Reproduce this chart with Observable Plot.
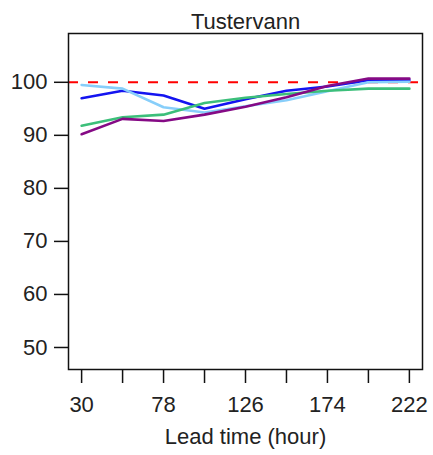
<!DOCTYPE html>
<html>
<head>
<meta charset="utf-8">
<script src="https://cdn.jsdelivr.net/npm/d3@7"></script>
<script src="https://cdn.jsdelivr.net/npm/@observablehq/plot@0.6"></script>
<style>
  html, body { margin: 0; padding: 0; background: #fff; }
  svg { display: block; }
</style>
</head>
<body>
<div id="chart"></div>
<script>
const title = "Tustervann";
const xLabel = "Lead time (hour)";
const leadTimes = [30, 54, 78, 102, 126, 150, 174, 198, 222];
const xTickLabels = [30, 78, 126, 174, 222];
const yTicks = [50, 60, 70, 80, 90, 100];
const reference = 100;

const seriesNames = ["Series A", "Series B", "Series C", "Series D"];
const seriesColors = ["#1414F0", "#87CEFA", "#3CBF7A", "#850A85"];
const seriesAValues = [97.0, 98.4, 97.5, 95.0, 96.8, 98.4, 99.2, 100.4, 100.4];
const seriesBValues = [99.5, 98.8, 95.3, 94.3, 95.5, 96.6, 98.3, 100.0, 100.1];
const seriesCValues = [91.8, 93.4, 93.9, 96.1, 97.1, 97.8, 98.4, 98.8, 98.8];
const seriesDValues = [90.2, 93.1, 92.7, 93.9, 95.4, 97.2, 99.3, 100.7, 100.7];
const allValues = [seriesAValues, seriesBValues, seriesCValues, seriesDValues];

const rows = [];
seriesNames.forEach((name, i) => {
  leadTimes.forEach((t, j) => rows.push({series: name, lead: t, value: allValues[i][j]}));
});

const font = "'Liberation Sans', Arial, Helvetica, sans-serif";

const chart = Plot.plot({
  width: 433,
  height: 455,
  marginLeft: 68,
  marginRight: 11,
  marginTop: 33,
  marginBottom: 86,
  style: {fontFamily: font, fontSize: "22px", color: "#222", background: "#fff"},
  x: {domain: [22.32, 229.68]},
  y: {domain: [45.85, 109.2]},
  color: {type: "ordinal", domain: seriesNames, range: seriesColors},
  marks: [
    Plot.ruleY([reference], {stroke: "#FF0000", strokeWidth: 2, strokeDasharray: "10,10"}),
    Plot.line(rows, {x: "lead", y: "value", z: "series", stroke: "series", strokeWidth: 2.6}),
    Plot.frame({stroke: "#111", strokeWidth: 1.5}),
    Plot.axisX({
      ticks: leadTimes, tickSize: 14, tickPadding: 13, fontSize: 22,
      tickFormat: d => xTickLabels.includes(d) ? String(d) : "",
      label: null, stroke: "#111", strokeWidth: 1.5
    }),
    Plot.axisY({
      ticks: yTicks, tickSize: 14, tickPadding: 7, fontSize: 22,
      label: null, stroke: "#111", strokeWidth: 1.5
    }),
    Plot.text([title], {text: d => d, frameAnchor: "top", lineAnchor: "middle", dy: -12, fontSize: 22, fill: "#222"}),
    Plot.text([xLabel], {text: d => d, frameAnchor: "bottom", lineAnchor: "middle", dy: 67, fontSize: 22, fill: "#222"})
  ]
});
document.getElementById("chart").appendChild(chart);
</script>
</body>
</html>
